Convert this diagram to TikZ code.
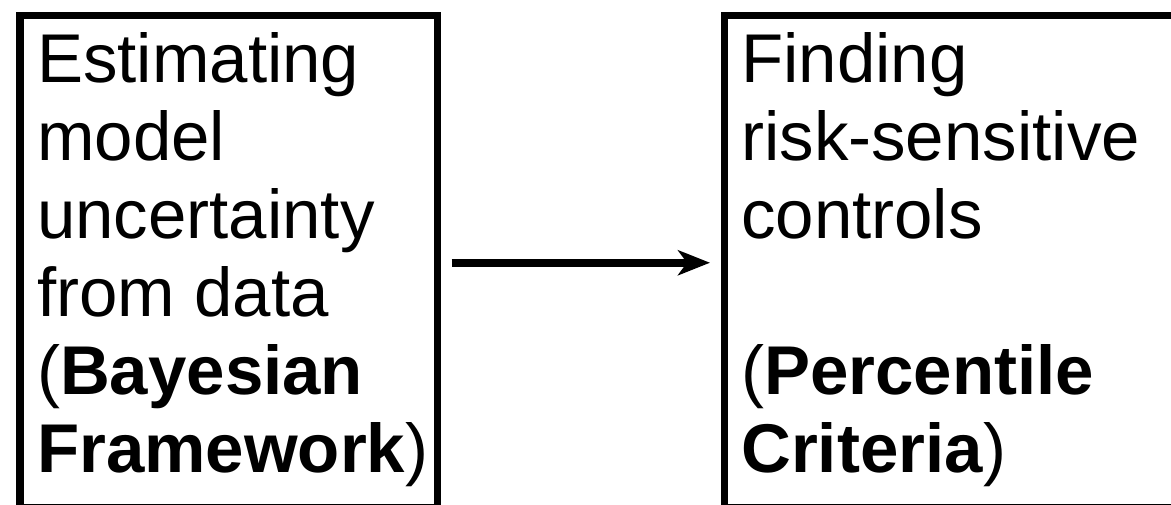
\documentclass[tikz,border=0pt]{standalone}
\usepackage{fontspec}
\setmainfont{Liberation Sans}
\usetikzlibrary{arrows.meta}
\tikzset{
  panel/.style={draw=black, line width=7.5pt, minimum height=492pt,
    inner sep=0pt, anchor=north west},
  panelhead/.style={anchor=base west, inner sep=0pt,
    font=\fontsize{69}{78}\selectfont},
  flow/.style={line width=8pt,
    -{Stealth[length=32pt, width=25pt, inset=9pt]},
    shorten <=10.5pt, shorten >=10.5pt}
}
\begin{document}
\begin{tikzpicture}[x=1pt, y=-1pt]
  \useasboundingbox (0,0) rectangle (1171,504);
  \clip (0,0) rectangle (1171,504);

  % the two stages
  \node[panel, minimum width=417.5pt] (estimate) at (16,11.5) {};
  \node[panel, minimum width=460pt] (control) at (720.5,11.5) {};

  % their descriptions
  \node[panelhead] (estimatetext) at (37,82) {%
    \begin{tabular}[t]{@{}l@{}}
      Estimating\\
      model\\
      uncertainty\\
      from data\\
      (\textbf{Bayesian}\\
      \textbf{Framework})
    \end{tabular}};
  \node[panelhead] (controltext) at (741,82) {%
    \begin{tabular}[t]{@{}l@{}}
      Finding\\
      risk-sensitive\\
      controls\\
      \\
      (\textbf{Percentile}\\
      \textbf{Criteria})
    \end{tabular}};

  % flow from estimation to control
  \draw[flow] ([yshift=-1.5pt]estimate.east) -- ([yshift=-1.5pt]control.west);
\end{tikzpicture}
\end{document}
